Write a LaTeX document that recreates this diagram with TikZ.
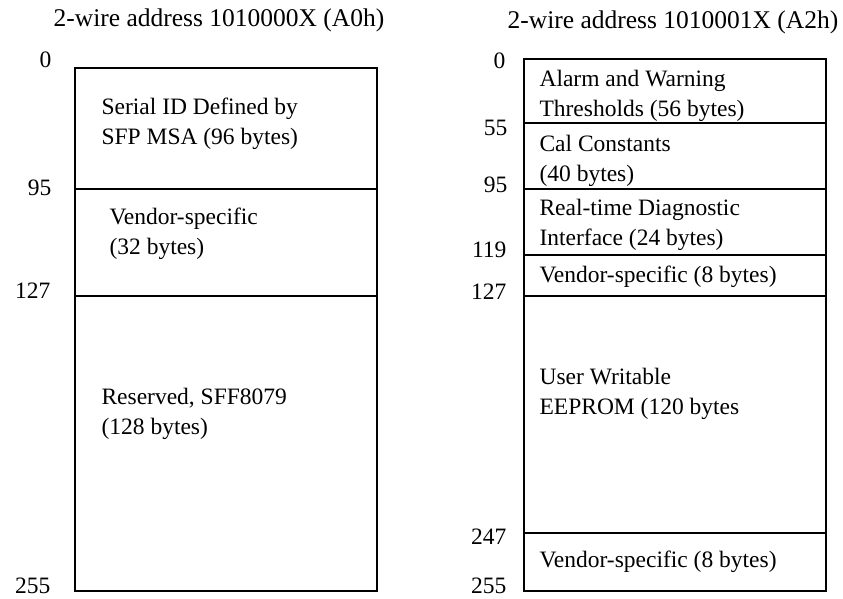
\documentclass[tikz,border=0pt]{standalone}
\usepackage{fontspec}
\setmainfont{Liberation Serif}
\usetikzlibrary{positioning}

\begin{document}
\begin{tikzpicture}[x=1pt, y=-1pt, line width=1.1pt,
        blk/.style={anchor=west, align=left, inner sep=0pt, font=\fontsize{23.5}{29.5}\selectfont},
        addr/.style={anchor=east, inner sep=0pt, font=\fontsize{23.5}{29.5}\selectfont},
        ttl/.style={inner sep=0pt, font=\fontsize{25.5}{30}\selectfont}]
                \useasboundingbox (0,0) rectangle (843,598);

                \node[ttl] (ttlA) at (219,20) {2-wire address 1010000X (A0h)};
                \node[ttl] (ttlB) at (673,22) {2-wire address 1010001X (A2h)};

                % lower page A0h
                \draw (75,68) rectangle (377,591);
                \draw (75,189) -- (377,189);
                \draw (75,296) -- (377,296);
                \node[addr] (a0) at (52,60) {0};
                \node[addr] (a95) at (52,188) {95};
                \node[addr] (a127) at (51,291) {127};
                \node[addr] (a255) at (51,586) {255};
                \node[blk] (serid) at (101,124) {Serial ID Defined by\\SFP MSA (96 bytes)};
                \node[blk] (vendA) at (109,234) {Vendor-specific\\(32 bytes)};
                \node[blk] (resv) at (101,414) {Reserved, SFF8079\\(128 bytes)};

                % diagnostics page A2h
                \draw (524,59) rectangle (826,591);
                \draw (524,123) -- (826,123);
                \draw (524,189) -- (826,189);
                \draw (524,255) -- (826,255);
                \draw (524,296) -- (826,296);
                \draw (524,533) -- (826,533);
                \node[addr] (b0) at (506,61) {0};
                \node[addr] (b55) at (508,128) {55};
                \node[addr] (b95) at (508,185) {95};
                \node[addr] (b119) at (507,250) {119};
                \node[addr] (b127) at (507,292) {127};
                \node[addr] (b247) at (507,537) {247};
                \node[addr] (b255) at (507,586) {255};
                \node[blk] (alarm) at (539,96) {Alarm and Warning\\Thresholds (56 bytes)};
                \node[blk] (calc) at (539,161) {Cal Constants\\(40 bytes)};
                \node[blk] (diag) at (539,225) {Real-time Diagnostic\\Interface (24 bytes)};
                \node[blk] (vendB) at (539,277) {Vendor-specific (8 bytes)};
                \node[blk] (user) at (539,394) {User Writable\\EEPROM (120 bytes};
                \node[blk] (vendC) at (539,562) {Vendor-specific (8 bytes)};
\end{tikzpicture}
\end{document}
